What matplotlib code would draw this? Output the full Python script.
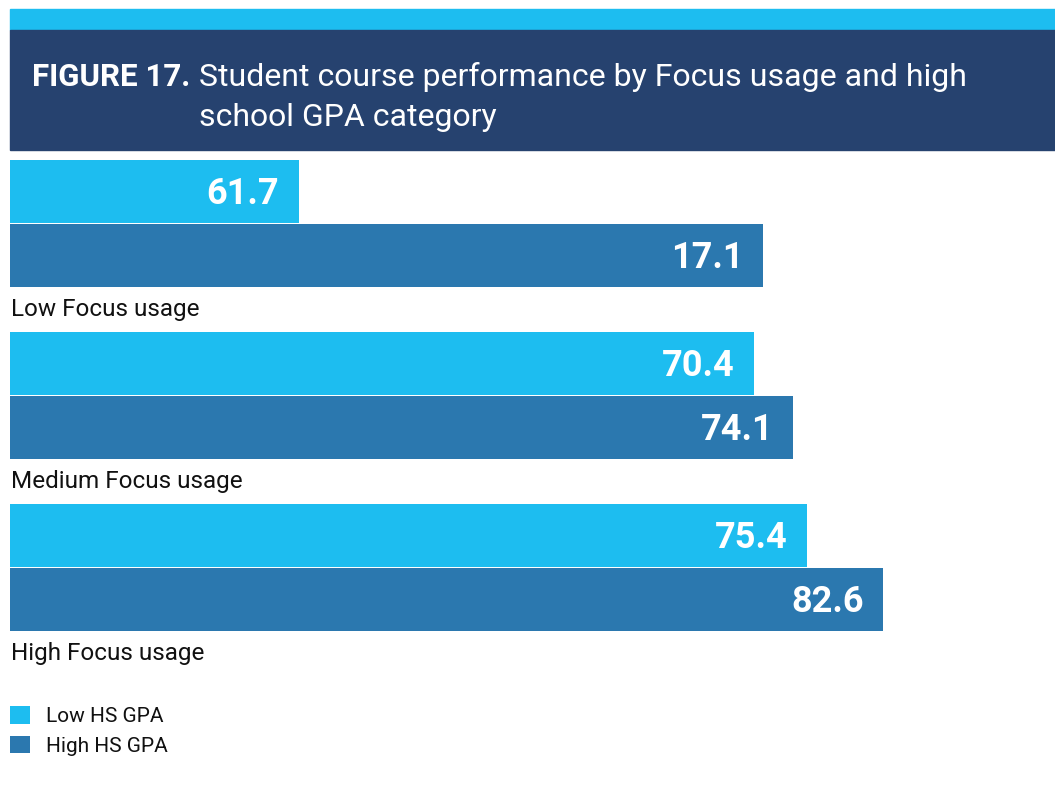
import matplotlib
matplotlib.use("Agg")
import matplotlib.pyplot as plt
from matplotlib.patches import Rectangle

# ==============================
# data
# ==============================
categories = ["Low Focus usage", "Medium Focus usage", "High Focus usage"]
series_names = ["Low HS GPA", "High HS GPA"]

# bar lengths as drawn in the source figure
low_gpa = [27.3, 70.4, 75.4]
high_gpa = [71.2, 74.1, 82.6]

# numbers printed on the bars (first group does not match its bar lengths in the source)
low_gpa_labels = ["61.7", "70.4", "75.4"]
high_gpa_labels = ["17.1", "74.1", "82.6"]

title_bold = "FIGURE 17."
title_rest = ["Student course performance by Focus usage and high",
              "school GPA category"]

# ==============================
# style
# ==============================
CYAN = "#1dbdf0"
BLUE = "#2b78af"
NAVY = "#26426f"
TEXT = "#111111"

plt.rcParams["font.family"] = ["Roboto", "DejaVu Sans"]

W, H = 1055, 797
fig = plt.figure(figsize=(W / 100, H / 100), dpi=100)


def fx(px):
    return px / W


def fy(py):
    return 1 - py / H


# ==============================
# header band
# ==============================
fig.patches.append(Rectangle((fx(10), fy(30)), fx(1045), 21 / H,
                             transform=fig.transFigure, color=CYAN, zorder=0))
fig.patches.append(Rectangle((fx(10), fy(150)), fx(1045), 120 / H,
                             transform=fig.transFigure, color=NAVY, zorder=0))

fig.text(fx(32), fy(86), title_bold, color="white", fontsize=22.5,
         fontweight="bold", va="baseline", ha="left")
fig.text(fx(199), fy(86), title_rest[0], color="white", fontsize=23,
         va="baseline", ha="left")
fig.text(fx(199), fy(126), title_rest[1], color="white", fontsize=23,
         va="baseline", ha="left")

# ==============================
# bars (y axis in pixel-like units, inverted)
# ==============================
px_per_unit = 873 / 82.6
ax = fig.add_axes([fx(10), fy(690), fx(1045), 540 / H])
ax.set_xlim(0, 1045 / px_per_unit)
ax.set_ylim(690, 150)
ax.axis("off")

bar_h = 63
pitch = 172
tops = [160 + pitch * i for i in range(len(categories))]
y_low = [t + bar_h / 2 for t in tops]
y_high = [t + bar_h + 1 + bar_h / 2 for t in tops]

b1 = ax.barh(y_low, low_gpa, height=bar_h, color=CYAN, left=0)
b2 = ax.barh(y_high, high_gpa, height=bar_h, color=BLUE, left=0)

for vals, labels, ys in [(low_gpa, low_gpa_labels, y_low),
                         (high_gpa, high_gpa_labels, y_high)]:
    for v, lab, y in zip(vals, labels, ys):
        ax.annotate(lab, xy=(v, y + 13), xytext=(-14, 0),
                    textcoords="offset points", ha="right", va="baseline",
                    color="white", fontsize=26, fontweight="bold")

for cat, t in zip(categories, tops):
    ax.text(0.1, t + 156, cat, ha="left", va="baseline",
            fontsize=17.5, color=TEXT)

# ==============================
# legend
# ==============================
fig.legend([b1, b2], series_names, loc="upper left",
           bbox_to_anchor=(fx(10), fy(706)), frameon=False, fontsize=15,
           handlelength=0.95, handleheight=0.95, handletextpad=0.8,
           labelspacing=0.45, borderpad=0, borderaxespad=0,
           labelcolor=TEXT)

fig.savefig("out.png", dpi=100)
